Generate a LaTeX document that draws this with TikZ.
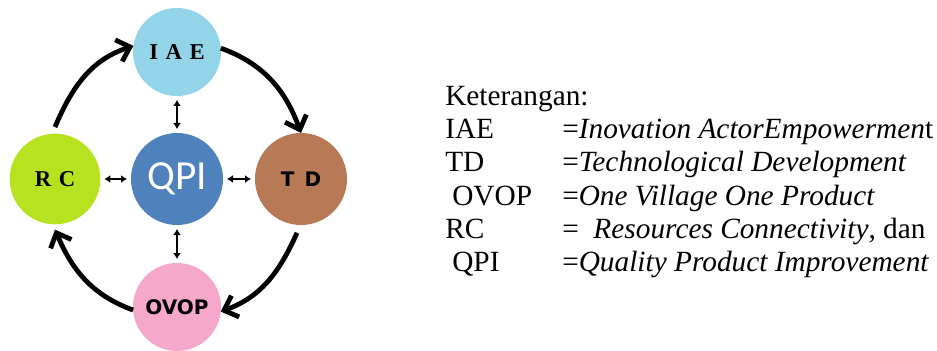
\documentclass[tikz,border=0pt]{standalone}
\usepackage{fontspec}
\setmainfont{Liberation Serif}[
  UprightFont={Liberation Serif},
  ItalicFont={Liberation Serif Italic},
  BoldFont={Liberation Serif Bold},
  BoldItalicFont={Liberation Serif Bold Italic}]
\newfontfamily\calibrisans{Carlito}
\newfontfamily\boldsans{DejaVu Sans}
\usetikzlibrary{arrows.meta}
\definecolor{iaeblue}{RGB}{148,212,232}
\definecolor{qpiblue}{RGB}{79,129,189}
\definecolor{rcgreen}{RGB}{182,226,32}
\definecolor{tdbrown}{RGB}{184,121,86}
\definecolor{ovoppink}{RGB}{246,168,202}
\begin{document}
\begin{tikzpicture}[x=0.75pt,y=0.75pt,
  ball/.style={circle,inner sep=0pt,outer sep=0pt,minimum size=66pt},
  cycle arrow/.style={line width=3.6pt,-{Straight Barb[length=9pt,width=17pt,line width=3.6pt]}},
  swap arrow/.style={line width=1.4pt,{Latex[length=4.5pt,width=6pt]}-{Latex[length=4.5pt,width=6pt]},shorten <=3pt,shorten >=3pt},
  legend/.style={anchor=base west,inner sep=0pt,font=\fontsize{22}{24}\selectfont}]
\useasboundingbox (0,0) rectangle (937,350);

% the five circles
\node[ball,fill=iaeblue]  (iae)  at (177,298) {\fontsize{17}{17}\selectfont\bfseries I\,\,A\,\,E};
\node[ball,fill=qpiblue,minimum size=69pt] (qpi) at (177,171) {\calibrisans\fontsize{31}{31}\selectfont\color{white}QPI};
\node[ball,fill=rcgreen,minimum size=68pt]  (rc)   at (55,171)  {\fontsize{17}{17}\selectfont\bfseries R\,\,C};
\node[ball,fill=tdbrown,minimum size=69pt]  (td)   at (301,171) {\boldsans\bfseries\fontsize{15}{15}\selectfont T\,\,\,D};
\node[ball,fill=ovoppink] (ovop) at (177,43)  {\boldsans\bfseries\fontsize{15}{15}\selectfont OVOP};

% clockwise cycle
\draw[cycle arrow] ([yshift=5pt]rc.north) to[out=67,in=198] (iae.172);
\draw[cycle arrow] (iae.5) to[out=-20,in=110] (td.north);
\draw[cycle arrow] ([yshift=-6pt]td.-95) to[out=246,in=20] (ovop.-6);
\draw[cycle arrow] (ovop.184) to[out=160,in=293] ([yshift=-4pt]rc.south);

% links with the centre
\draw[swap arrow] (iae.south) -- (qpi.north);
\draw[swap arrow] (qpi.south) -- (ovop.north);
\draw[swap arrow] (rc.east) -- (qpi.west);
\draw[swap arrow] (qpi.east) -- (td.west);

% legend
\node[legend] (k0) at (445,244) {Keterangan:};
\node[legend] (k1) at (445,211) {IAE};
\node[legend] (d1) at (562,211) {=\textit{Inovation ActorEmpowermen}t};
\node[legend] (k2) at (445,178) {TD};
\node[legend] (d2) at (562,178) {=\textit{Technological Development}};
\node[legend] (k3) at (452,145) {OVOP};
\node[legend] (d3) at (562,145) {=\textit{One Village One Product}};
\node[legend] (k4) at (445,112) {RC};
\node[legend] (d4) at (562,112) {=\ \ \textit{Resources Connectivity}, dan};
\node[legend] (k5) at (452,79)  {QPI};
\node[legend] (d5) at (562,79)  {=\textit{Quality Product Improvement}};
\end{tikzpicture}
\end{document}
